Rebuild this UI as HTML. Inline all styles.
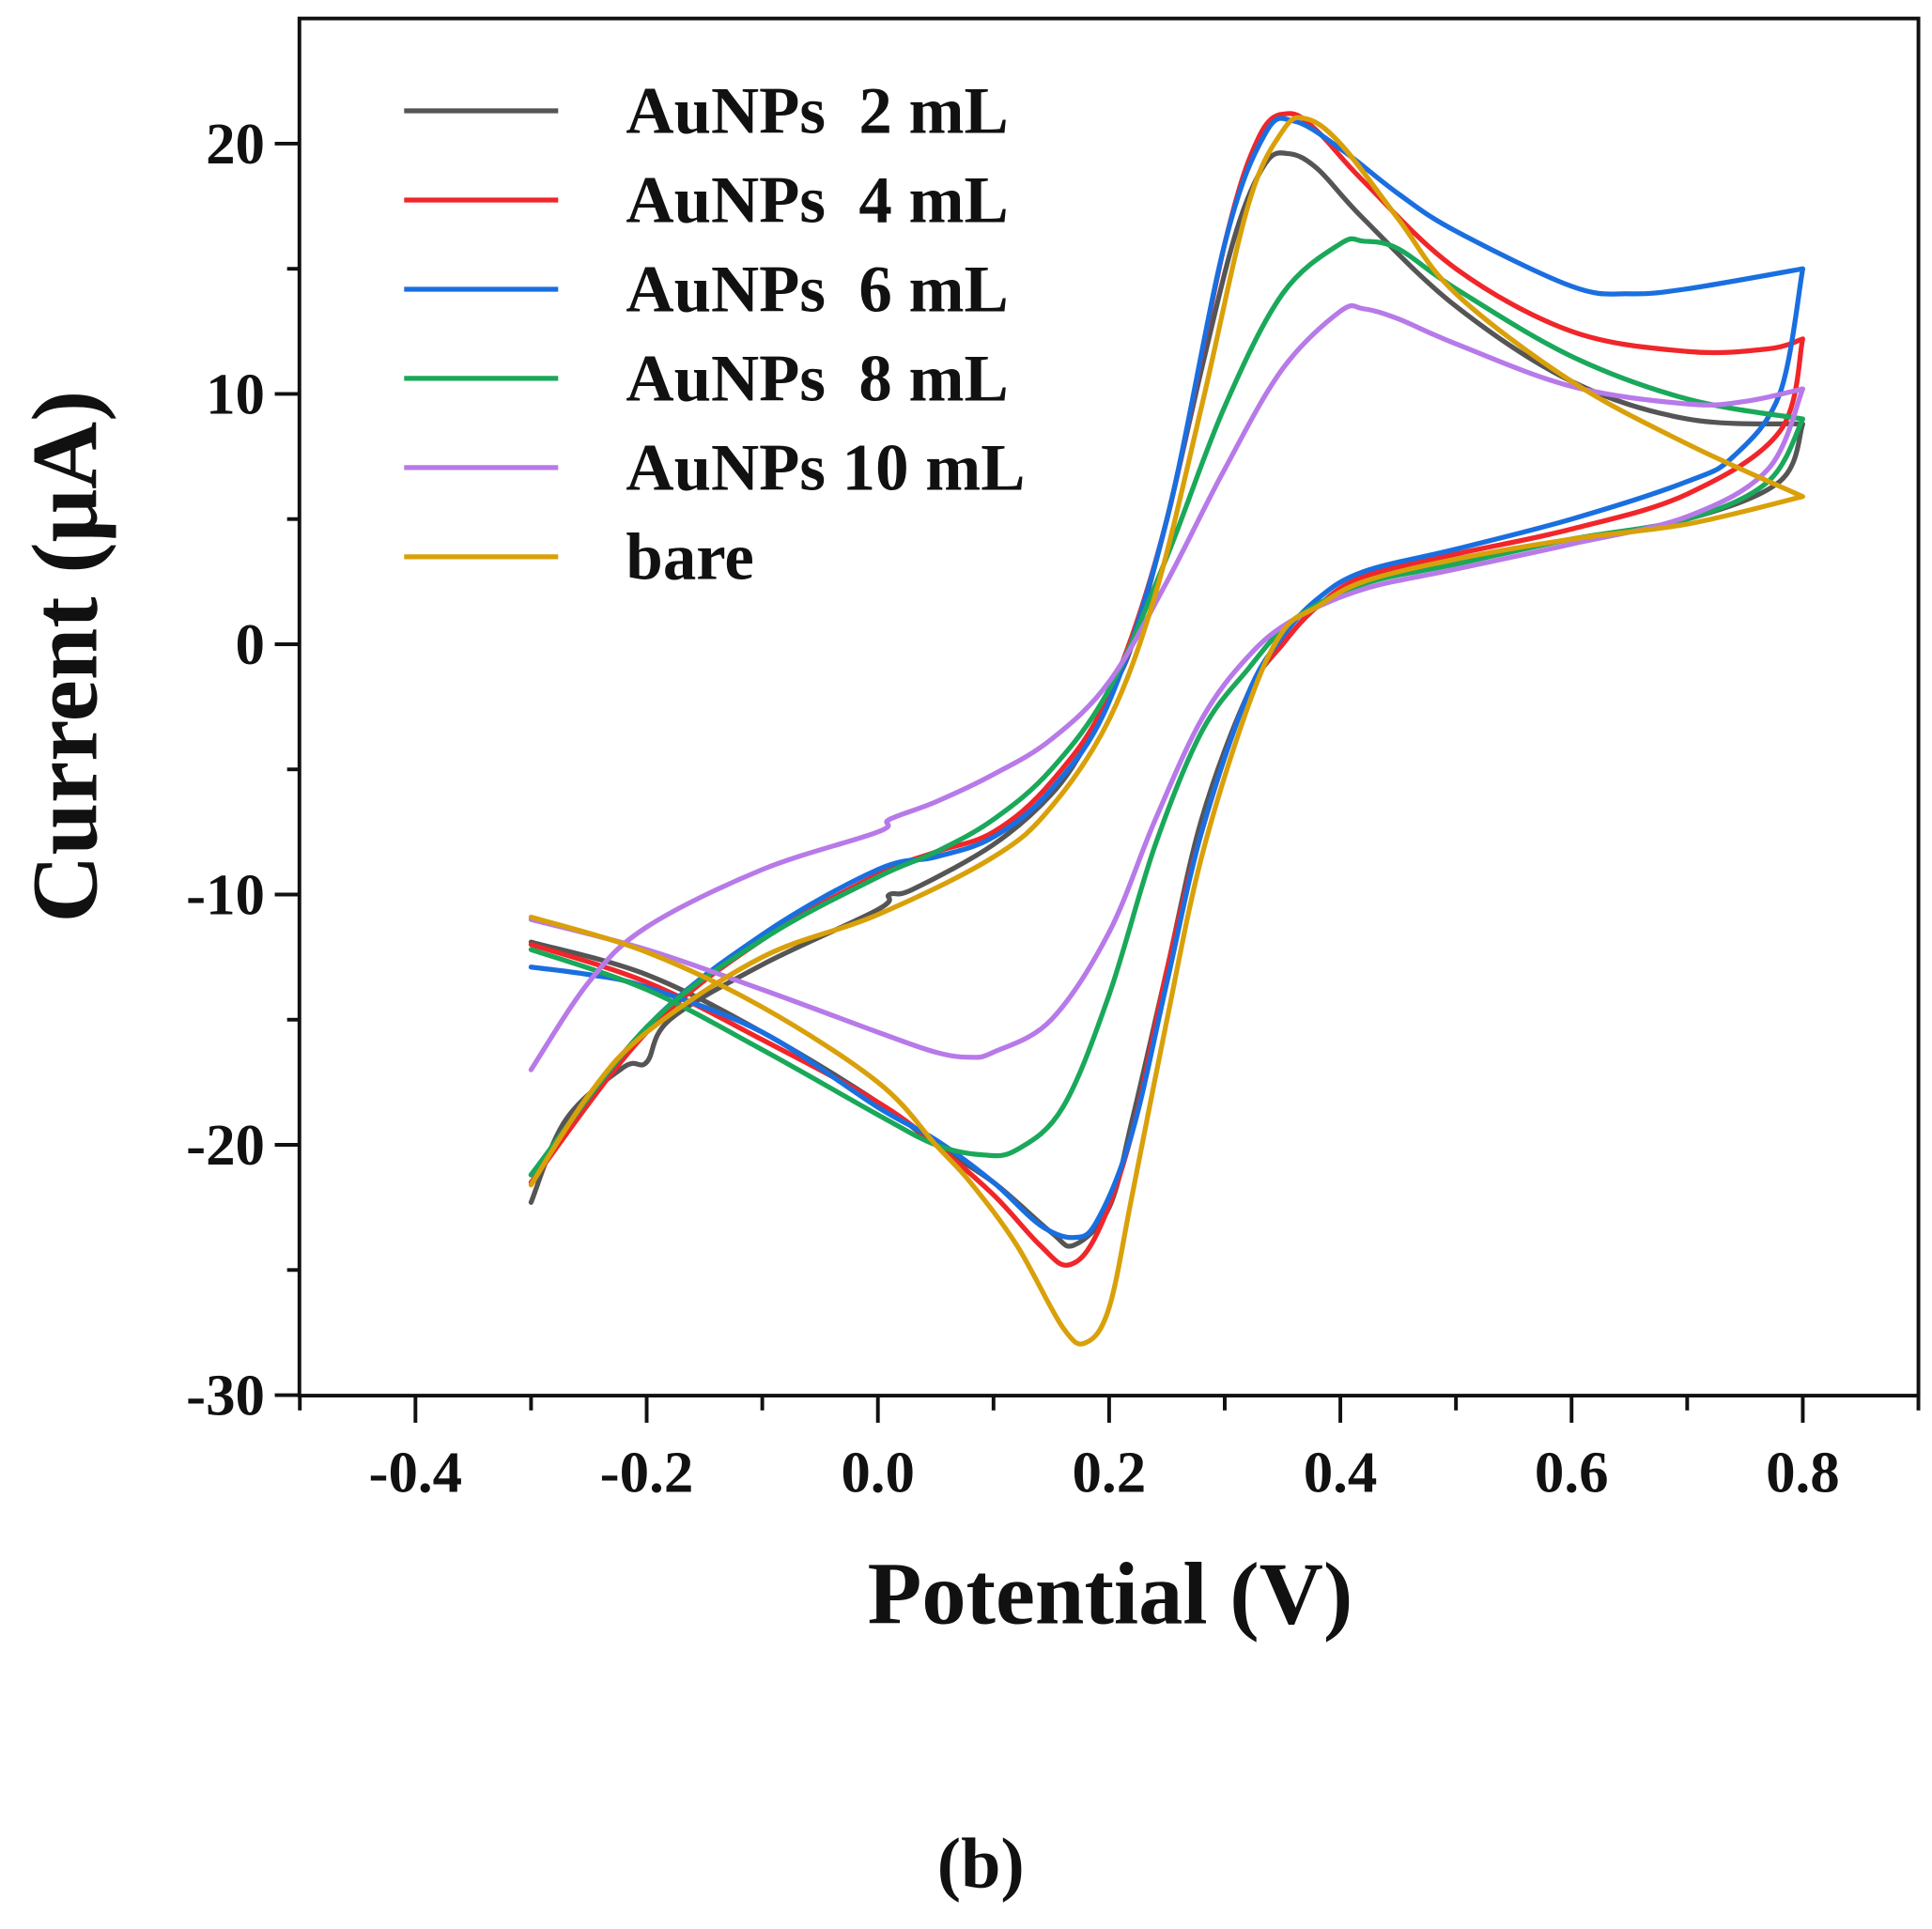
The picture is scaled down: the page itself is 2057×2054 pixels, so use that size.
<!DOCTYPE html>
<html><head><meta charset="utf-8"><style>html,body{margin:0;padding:0;background:#fff}svg{display:block}text{font-family:"Liberation Serif",serif;font-weight:bold;fill:#111}</style></head>
<body>
<svg id="chart" width="2057" height="2054" viewBox="0 0 1568 1566" preserveAspectRatio="none" xmlns="http://www.w3.org/2000/svg">
<g id="axes"></g><g id="series"></g><g id="legend"></g>
<text transform="translate(78,533) rotate(-90)" text-anchor="middle" font-size="76">Current (μA)</text>
<text x="901" y="1318" text-anchor="middle" font-size="72">Potential (V)</text>
<text x="796" y="1532" text-anchor="middle" font-size="58">(b)</text>
</svg>
<script>
const names=["AuNPs  2 mL","AuNPs  4 mL","AuNPs  6 mL","AuNPs  8 mL","AuNPs 10 mL","bare"];
const colors=["#555","#f0262a","#1a6fe0","#1aa85a","#b77ae8","#d9a00a"];
const xTicks=[-0.4,-0.2,0.0,0.2,0.4,0.6,0.8];
const yTicks=[-30,-20,-10,0,10,20];
const s2=[[-0.3,-22.3],[-0.27,-19],[-0.22,-16.9],[-0.2,-16.7],[-0.18,-15],[-0.1,-12.8],[0,-10.6],[0.01,-10],[0.03,-9.8],[0.1,-8],[0.15,-6],[0.18,-4],[0.2,-2],[0.22,0],[0.25,5],[0.28,11],[0.31,16.5],[0.335,19.2],[0.355,19.6],[0.38,19],[0.42,17],[0.5,13.5],[0.6,10.5],[0.7,9],[0.8,8.8],[0.78,6.5],[0.7,5],[0.6,4.2],[0.5,3.4],[0.42,2.6],[0.38,1.5],[0.35,0],[0.32,-2],[0.28,-7],[0.25,-13],[0.22,-19],[0.2,-22.5],[0.17,-24],[0.15,-23.5],[0.1,-21.5],[0.05,-20],[0,-18.3],[-0.1,-15.5],[-0.2,-13.2],[-0.3,-11.9]];
const s4=[[-0.3,-21.5],[-0.2,-15.5],[-0.1,-11.8],[0,-9.2],[0.05,-8.3],[0.1,-7.5],[0.15,-5.5],[0.2,-2],[0.25,5],[0.3,16],[0.33,20.3],[0.355,21.2],[0.38,20.5],[0.42,18.5],[0.5,15],[0.6,12.5],[0.7,11.7],[0.77,11.8],[0.8,12.2],[0.78,8.5],[0.7,6],[0.6,4.6],[0.5,3.6],[0.42,2.7],[0.38,1.5],[0.35,0],[0.32,-2],[0.28,-7.5],[0.25,-13],[0.22,-19.5],[0.19,-23.5],[0.165,-24.8],[0.14,-24],[0.1,-22],[0.05,-20],[0,-18.3],[-0.1,-15.8],[-0.2,-13.5],[-0.3,-12]];
const s6=[[-0.3,-21.2],[-0.2,-15.3],[-0.1,-11.6],[0,-9],[0.05,-8.5],[0.1,-7.7],[0.15,-5.8],[0.2,-2.3],[0.25,5],[0.3,16],[0.335,20.4],[0.36,20.9],[0.4,19.8],[0.45,18],[0.5,16.5],[0.6,14.3],[0.65,14],[0.7,14.2],[0.8,15],[0.78,10],[0.74,7.5],[0.7,6.5],[0.6,5],[0.5,3.8],[0.42,2.9],[0.38,1.8],[0.35,0.3],[0.32,-2],[0.28,-7.5],[0.25,-13.5],[0.22,-19.5],[0.19,-23],[0.17,-23.7],[0.14,-23.2],[0.1,-21.5],[0.05,-19.8],[0,-18.5],[-0.1,-15.5],[-0.2,-13.7],[-0.25,-13.2],[-0.3,-12.9]];
const s8=[[-0.3,-21.2],[-0.2,-15.3],[-0.1,-11.8],[0,-9.3],[0.05,-8.3],[0.1,-7],[0.15,-5],[0.2,-1.8],[0.25,3.5],[0.3,9.5],[0.35,14],[0.4,16],[0.42,16.1],[0.45,15.8],[0.5,14.2],[0.6,11.5],[0.7,9.8],[0.8,9],[0.77,6.5],[0.7,5],[0.6,4.2],[0.5,3.2],[0.42,2.4],[0.36,1],[0.32,-1],[0.28,-3.5],[0.24,-8],[0.2,-14],[0.16,-18.5],[0.12,-20.2],[0.09,-20.4],[0.05,-20],[0,-18.8],[-0.1,-16.2],[-0.2,-13.8],[-0.3,-12.2]];
const s10=[[-0.3,-17],[-0.25,-13.5],[-0.2,-11.3],[-0.1,-9],[0,-7.5],[0.01,-7],[0.05,-6.3],[0.1,-5.2],[0.15,-3.8],[0.2,-1.5],[0.25,2.5],[0.3,7],[0.35,11],[0.4,13.3],[0.42,13.4],[0.45,13],[0.5,12],[0.6,10.3],[0.7,9.6],[0.75,9.7],[0.8,10.2],[0.77,7],[0.7,5.1],[0.6,4],[0.5,3],[0.42,2.2],[0.36,1],[0.32,-0.5],[0.28,-3],[0.24,-7],[0.2,-11.5],[0.15,-15],[0.1,-16.3],[0.08,-16.5],[0.05,-16.3],[0,-15.5],[-0.1,-13.8],[-0.2,-12.2],[-0.3,-11]];
const sBare=[[-0.3,-21.6],[-0.25,-18],[-0.2,-15.5],[-0.1,-12.5],[0,-10.8],[0.1,-8.5],[0.15,-6.5],[0.2,-3],[0.24,2],[0.28,9.5],[0.32,17.5],[0.35,20.5],[0.37,21],[0.4,20],[0.45,17],[0.5,14],[0.6,10.5],[0.7,8],[0.8,5.9],[0.7,4.8],[0.6,4.2],[0.5,3.4],[0.42,2.5],[0.38,1.5],[0.35,0.5],[0.32,-2.5],[0.28,-8.5],[0.25,-15],[0.22,-22],[0.2,-26.5],[0.18,-27.9],[0.16,-27.3],[0.12,-24],[0.08,-21.5],[0.05,-20],[0,-17.5],[-0.1,-14.5],[-0.2,-12.3],[-0.3,-10.9]];
const allSeries=[s2,s4,s6,s8,s10,sBare];

const NS="http://www.w3.org/2000/svg";
const L=243,R=1557,T=15,B=1133;
function xs(v){return 712.5+v*938.3;}
function ys(v){return 523-v*20.32;}
function mk(tag,attrs,parent){const e=document.createElementNS(NS,tag);for(const k in attrs)e.setAttribute(k,attrs[k]);parent.appendChild(e);return e;}
function smooth(pts,first){
  let d=first?('M'+pts[0][0].toFixed(1)+','+pts[0][1].toFixed(1)):'';
  for(let i=0;i<pts.length-1;i++){
    const p0=pts[Math.max(0,i-1)],p1=pts[i],p2=pts[i+1],p3=pts[Math.min(pts.length-1,i+2)];
    const t=0.17;
    const c1=[p1[0]+(p2[0]-p0[0])*t,p1[1]+(p2[1]-p0[1])*t];
    const c2=[p2[0]-(p3[0]-p1[0])*t,p2[1]-(p3[1]-p1[1])*t];
    d+=' C'+c1[0].toFixed(1)+','+c1[1].toFixed(1)+' '+c2[0].toFixed(1)+','+c2[1].toFixed(1)+' '+p2[0].toFixed(1)+','+p2[1].toFixed(1);
  }
  return d;
}
const axes=document.getElementById('axes');
const frame=mk('rect',{x:L,y:T,width:R-L,height:B-T,fill:'none',stroke:'#111','stroke-width':3},axes);


xTicks.forEach(v=>{
  const t=mk('line',{x1:xs(v),x2:xs(v),y1:B,y2:B+22,stroke:'#111','stroke-width':3},axes);
  
  
  const m=mk('line',{x1:xs(v+0.1),x2:xs(v+0.1),y1:B,y2:B+12,stroke:'#111','stroke-width':3},axes);
  
  
  const lb=mk('text',{x:xs(v),y:B+78,'text-anchor':'middle','font-size':48},axes);
  lb.textContent=v.toFixed(1);
  
  
});
mk('line',{x1:xs(-0.5),x2:xs(-0.5),y1:B,y2:B+12,stroke:'#111','stroke-width':3},axes);
yTicks.forEach(v=>{
  const t=mk('line',{x1:L-20,x2:L,y1:ys(v),y2:ys(v),stroke:'#111','stroke-width':3},axes);
  
  
  if(v<20){const m=mk('line',{x1:L-10,x2:L,y1:ys(v+5),y2:ys(v+5),stroke:'#111','stroke-width':3},axes);
  
  }
  const lb=mk('text',{x:L-28,y:ys(v)+16,'text-anchor':'end','font-size':48},axes);
  lb.textContent=String(v);
  
  
});
const sg=document.getElementById('series');
allSeries.forEach((d,i)=>{
  const pts=d.map(q=>[xs(q[0]),ys(q[1])]);
  let k=0;d.forEach((q,j)=>{if(q[0]>d[k][0])k=j;});
  const path=smooth(pts.slice(0,k+1),true)+smooth(pts.slice(k),false);
  const p=mk('path',{d:path,fill:'none',stroke:colors[i],'stroke-width':4,'stroke-linejoin':'round','stroke-linecap':'round'},sg);
  
  
});
const lg=document.getElementById('legend');
names.forEach((n,i)=>{
  const y=90+i*72.4;
  const g=mk('g',{},lg);
  
  
  mk('line',{x1:328,x2:453,y1:y,y2:y,stroke:colors[i],'stroke-width':4},g);
  const t=mk('text',{x:508,y:y+18,'font-size':54},g);
  t.setAttribute('style','white-space:pre');
  t.textContent=n;
});
</script>
</body></html>
